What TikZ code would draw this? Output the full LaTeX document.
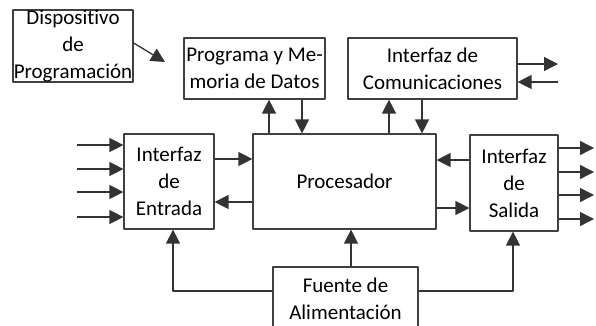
\documentclass[tikz,border=0pt]{standalone}
\usepackage{fontspec}
\setmainfont[Ligatures={NoCommon}]{Carlito}
\usetikzlibrary{arrows.meta}
\begin{document}
\begin{tikzpicture}[x=1pt,y=-1pt,line join=round,font=\fontsize{21}{27}\selectfont,
	>={Triangle[length=14pt,width=14pt]},
	bloque/.style={draw=black!75,line width=1.2pt,align=center,inner sep=0pt},
	flecha/.style={->,draw=black!80,line width=1.3pt}]
	\useasboundingbox (0,0) rectangle (596,325);
	\path 
	(73,46) node[bloque,minimum width=120pt,minimum height=72pt] (disp) {Dispositivo\\de\\Programación}
	(254.5,68.5) node[bloque,minimum width=141pt,minimum height=61pt] (prog) {Programa y Me-\\moria de Datos}
	(432.5,68.5) node[bloque,minimum width=169pt,minimum height=61pt] (comu) {Interfaz de\\Comunicaciones}
	(169,181.5) node[bloque,minimum width=90pt,minimum height=95pt] (ent) {Interfaz\\de\\Entrada}
	(344.5,181.5) node[bloque,minimum width=183pt,minimum height=95pt] (proc) {Procesador}
	(514,183) node[bloque,minimum width=88pt,minimum height=96pt] (sal) {Interfaz\\de\\Salida}
	(345.5,299) node[bloque,minimum width=145pt,minimum height=64pt] (fuen) {Fuente de\\Alimentación}
	(165,62) coordinate (dispfin)
	(558,64) coordinate (comusal)
	(558,82) coordinate (comuent)
	;
	\draw[flecha] ([yshift=3pt]disp.east) -- (dispfin);
	\draw[flecha] (proc.north -| 269,0) -- (prog.south -| 269,0);
	\draw[flecha] (prog.south -| 302,0) -- (proc.north -| 302,0);
	\draw[flecha] (proc.north -| 389,0) -- (comu.south -| 389,0);
	\draw[flecha] (comu.south -| 422,0) -- (proc.north -| 422,0);
	\draw[flecha] (comu.east |- comusal) -- (comusal);
	\draw[flecha] (comuent) -- (comu.east |- comuent);
	\draw[flecha] (ent.east |- 0,159) -- (proc.west |- 0,159);
	\draw[flecha] (proc.west |- 0,202) -- (ent.east |- 0,202);
	\draw[flecha] (sal.west |- 0,160) -- (proc.east |- 0,160);
	\draw[flecha] (proc.east |- 0,208) -- (sal.west |- 0,208);
	\foreach \y [count=\i] in {145,169,192,217}{
		\coordinate (in\i) at (77,\y);
		\draw[flecha] (in\i) -- (ent.west |- in\i);
	}
	\foreach \y [count=\i] in {148,172,195,219}{
		\coordinate (out\i) at (594,\y);
		\draw[flecha] (sal.east |- out\i) -- (out\i);
	}
	\draw[flecha] (fuen.west |- 0,291) -| (ent.south -| 173,0);
	\draw[flecha] (fuen.east |- 0,291) -| (sal.south -| 513,0);
	\draw[flecha] (fuen.north -| 351,0) -- (proc.south -| 351,0);
\end{tikzpicture}
\end{document}
